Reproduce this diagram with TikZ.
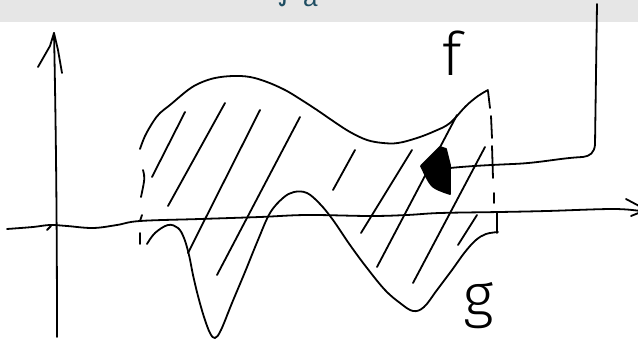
\documentclass[tikz,border=0pt]{standalone}
\usepackage{fontspec}
\newfontfamily\handfont{Fira Sans Light}
\newfontfamily\hdrfont{Liberation Sans}
\newfontfamily\symfont{DejaVu Sans}
\usetikzlibrary{arrows.meta}
\definecolor{band}{HTML}{E6E6E6}
\definecolor{hdr}{HTML}{1E4D62}
\begin{document}
\begin{tikzpicture}[x=1pt,y=-1pt,
  pen/.style={line width=1.8pt, line cap=round, line join=round},
  lbl/.style={inner sep=0pt, font=\handfont\fontsize{60}{60}\selectfont},
  hdrtext/.style={inner sep=0pt, text=hdr, font=\hdrfont\fontsize{26}{26}\selectfont}]
\useasboundingbox (0,0) rectangle (638,344);
\clip (0,0) rectangle (638,344);
% header band with cut-off formula
\fill[band] (0,0) rectangle (638,22);
\node[hdrtext, font=\symfont\fontsize{30}{30}\selectfont, anchor=south] (intsign) at (285,7) {∫};
\node[hdrtext, anchor=base west] (lowlim) at (303,7) {a};
% y axis
\draw[pen] (54,33) .. controls (56,130) and (57,230) .. (57,337);
\draw[pen] (38,67) -- (50,46) -- (54,33) -- (58,50) -- (62,73);
% x axis
\draw[pen] plot[smooth, tension=0.6] coordinates {(7,229) (33,227) (50,225) (67,226) (93,228) (117,225) (140,221) (200,219) (260,217) (307,215) (370,216) (407,215) (440,213) (500,212) (547,211) (613,209) (640,211)};
\draw[pen] (626,199) -- (641,207);
\draw[pen] (631,216) -- (641,212);
\draw[pen] (47,230) -- (51,226);
% f curve
\draw[pen] plot[smooth, tension=0.6] coordinates {(140,149) (145,136) (153,122) (160,113) (170,105) (188,90) (200,83) (215,78) (233,76) (250,77) (267,82) (285,90) (300,99) (317,110) (333,121) (350,132) (367,140) (383,143) (398,143) (417,138) (435,131) (450,123) (466,106) (478,96) (488,90)};
% g curve
\draw[pen] plot[smooth, tension=0.6] coordinates {(147,244) (155,233) (168,225) (178,228) (184,238) (189,255) (193,275) (198,296) (204,317) (210,333) (215,338) (221,330) (232,303) (245,272) (258,240) (270,213) (283,198) (294,192) (307,193) (320,204) (333,220) (350,245) (367,268) (385,290) (400,303) (413,311) (424,307) (437,290) (452,270) (465,252) (476,240) (486,234) (498,232)};
% left dashed bound
\draw[pen] (143,170) .. controls (145,178) .. (141,197);
\draw[pen] (142,215) -- (140,221);
\draw[pen] (140,233) -- (140,244);
% right dashed bound
\draw[pen] (488,91) -- (490,108);
\draw[pen] (491,116) -- (492,138);
\draw[pen] (492,146) -- (493,178);
\draw[pen] (494,193) -- (494,203);
\draw[pen] (497,213) -- (497,233);
% hatching
\draw[pen] (152,177) -- (185,112);
\draw[pen] (168,206) -- (225,103);
\draw[pen] (188,253) -- (260,110);
\draw[pen] (217,275) -- (300,117);
\draw[pen] (333,190) -- (355,150);
\draw[pen] (361,233) -- (412,150);
\draw[pen] (377,267) -- (457,115);
\draw[pen] (413,283) -- (485,147);
\draw[pen] (458,245) -- (477,215);
% pointer
\coordinate (src) at (597,4);
\coordinate (tgt) at (450,168);
\coordinate (tip) at (421,166);
\draw[pen] (src) -- (595,145) .. controls (594,153) and (590,156) .. (583,157)
  .. controls (560,158) and (540,163) .. (513,164)
  .. controls (490,165) and (470,166) .. (tgt);
\filldraw[pen] (tip) -- (440,147) -- (446,149) -- (450,165) -- (450,194) -- (444,192) .. controls (431,187) .. cycle;
% labels
\node[lbl] (flabel) at (452,53) {f};
\node[lbl] (glabel) at (479,306) {g};
\end{tikzpicture}
\end{document}
